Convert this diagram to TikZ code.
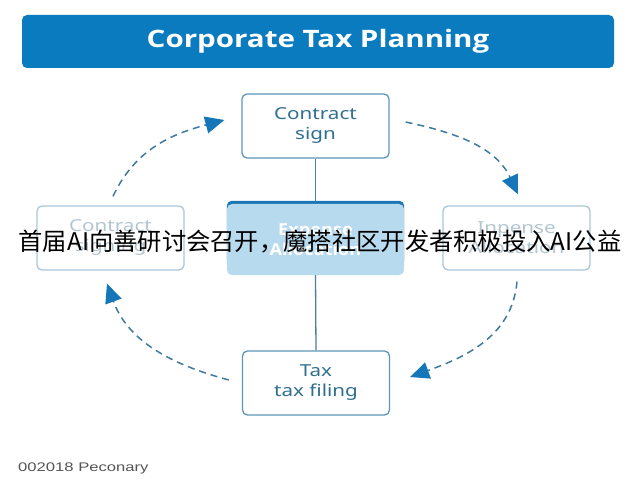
\documentclass[tikz,border=0pt]{standalone}
\usepackage{fontspec}
\usepackage{graphicx}
\setmainfont{Noto Sans}
\newfontfamily\boldsans{Open Sans}
\newfontfamily\cjkfont{Noto Sans CJK SC}
\newfontfamily\footfont{Liberation Sans}
\usetikzlibrary{arrows.meta,backgrounds,calc}
\definecolor{titleblue}{HTML}{0B7BC0}
\definecolor{boxedge}{HTML}{5E97B8}
\definecolor{boxtext}{HTML}{2F6F8F}
\definecolor{fadeedge}{HTML}{A9C7D8}
\definecolor{fadetext}{HTML}{B3C6D0}
\definecolor{centerfill}{HTML}{B8DAEE}
\definecolor{centerbar}{HTML}{1C76B4}
\definecolor{dashblue}{HTML}{3F7BA0}
\definecolor{arrowblue}{HTML}{1577B8}
\definecolor{linecol}{HTML}{4A7F9E}
\definecolor{footgray}{HTML}{555555}
\newcommand\sx[1]{\scalebox{1.25}[1]{#1}}
\begin{document}
\begin{tikzpicture}[x=1pt,y=1pt,
  stagebox/.style={rounded corners=5pt, draw=boxedge, line width=1.3pt, fill=white,
    minimum width=147pt, minimum height=64pt, inner sep=0pt, align=center,
    text=boxtext, font=\fontsize{16.5}{20}\selectfont},
  fadebox/.style={stagebox, draw=fadeedge, text=fadetext},
  flow/.style={draw=dashblue, line width=1.5pt, dash pattern=on 7pt off 5pt,
    -{Triangle[length=19pt,width=17pt,color=arrowblue]}},
  vline/.style={draw=linecol, line width=1.3pt}]
\useasboundingbox (0,0) rectangle (640,480);
% title
\node[fill=titleblue, rounded corners=5pt, minimum width=592pt, minimum height=53pt,
  inner sep=0pt, text=white, font=\boldsans\fontsize{24}{28}\selectfont\bfseries] (title) at (318,438.5)
  {\scalebox{1.23}[1]{Corporate Tax Planning}};
% boxes
\node[stagebox] (T) at (315.5,354) {\sx{Contract}\\\sx{sign}};
\node[stagebox] (B) at (316,97) {\sx{Tax}\\\sx{tax filing}};
\node[fadebox] (L) at (110.5,242) {\sx{Contract}\\\sx{signing}};
\node[fadebox] (R) at (516.5,242) {\sx{Inpense}\\\sx{Allocation}};
\node[rounded corners=5pt, fill=centerfill, minimum width=177pt, minimum height=71pt,
  inner sep=0pt, align=center, text=white, font=\boldsans\fontsize{16.5}{20}\selectfont\bfseries] (C)
  at (315.5,240.5) {\scalebox{1.1}[1]{Expense}\\\scalebox{1.1}[1]{Allocation}};
\begin{scope}[on background layer]
  \fill[white] (0,0) rectangle (640,480);
  \fill[centerbar, rounded corners=5pt] ($(C.north west)+(0,3)$) rectangle ($(C.south east)+(0,10)$);
\end{scope}
% vertical lines
\draw[vline] (T.south) -- ($(C.north)+(0,3)$);
\draw[vline] (C.south) -- (B.north);
% cycle arrows
\draw[flow] ($(L.north)+(2.5,9)$) to[out=65,in=195] ($(T.west)+(-17,6)$);
\draw[flow] ($(T.east)+(16,4)$) to[out=-12,in=115] ($(R.north)+(1.5,11)$);
\draw[flow] ($(R.south)+(0.5,-11)$) to[out=-95,in=20] ($(B.east)+(20,6)$);
\draw[flow] ($(B.west)+(-13,3)$) to[out=165,in=-70] ($(L.south)+(-3.5,-13)$);
% overlay caption
\node[font=\cjkfont\fontsize{24.3}{26}\selectfont, text=black, inner sep=0pt] (cap)
  at (320,238) {首届AI向善研讨会召开，魔搭社区开发者积极投入AI公益};
% footer
\node[anchor=base west, inner sep=0pt, text=footgray,
  font=\footfont\fontsize{12.5}{14}\selectfont] (foot) at (18,9) {\scalebox{1.33}[1]{002018 Peconary}};
\end{tikzpicture}
\end{document}
